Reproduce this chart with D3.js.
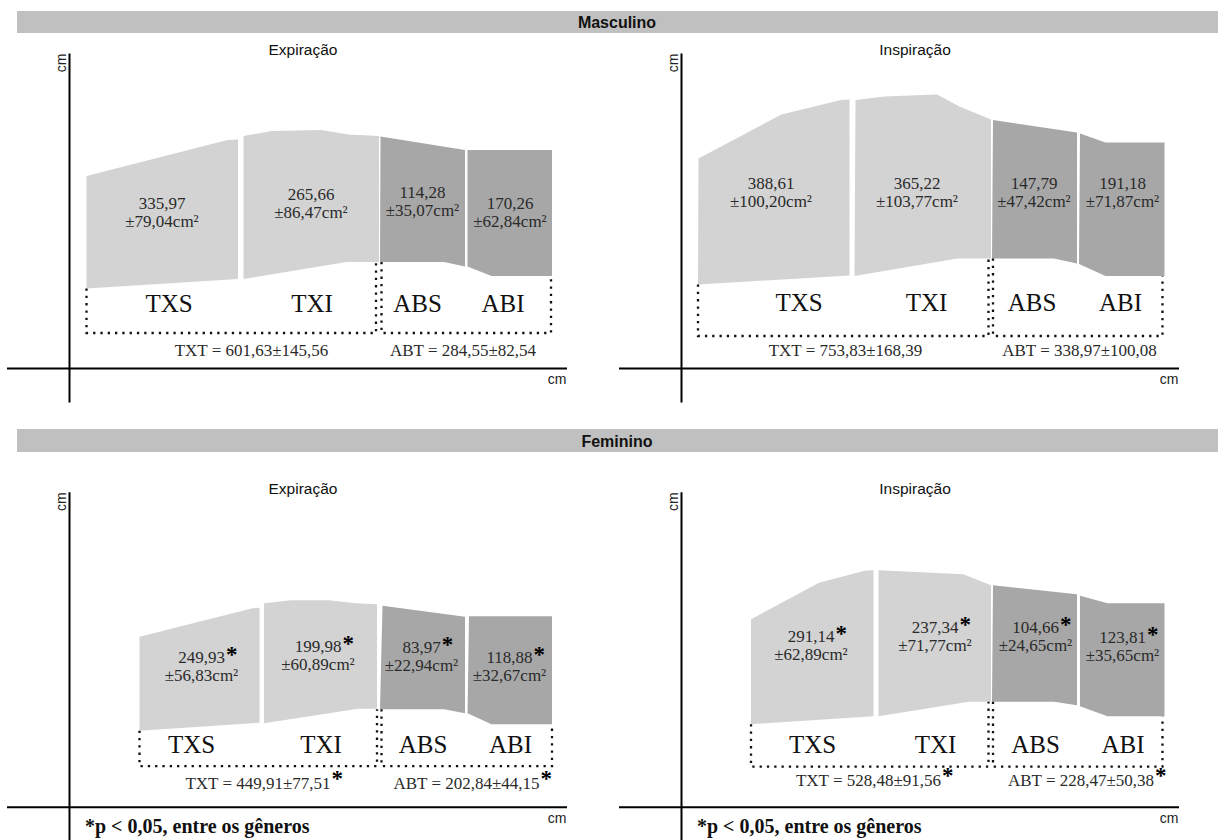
<!DOCTYPE html>
<html>
<head>
<meta charset="utf-8">
<script src="https://cdn.jsdelivr.net/npm/d3@7"></script>
<style>
  body { margin: 0; background: #fff; }
  svg { display: block; }
</style>
</head>
<body>
<svg id="chart" width="1218" height="840"></svg>
<script>
// Trunk regions, measured areas (cm²) and their contour outlines (cm)
const regions = ["TXS", "TXI", "ABS", "ABI"];
const totalNames = ["TXT", "ABT"];
const groups = ["Masculino", "Feminino"];
const phases = ["Expiração", "Inspiração"];

// Masculino – Expiração
const mascExpMean = [335.97, 265.66, 114.28, 170.26];
const mascExpSD = [79.04, 86.47, 35.07, 62.84];
const mascExpTotalMean = [601.63, 284.55];
const mascExpTotalSD = [145.56, 82.54];
const mascExpOutline = [
  [[3.5, 38.4], [31.7, 45.6], [33.8, 45.7], [33.8, 17.8], [3.5, 15.9]],
  [[34.9, 46.4], [40.5, 47.4], [50.5, 47.6], [55.8, 46.7], [62.0, 46.4], [62.0, 21.2], [55.5, 21.2], [34.9, 17.8]],
  [[62.3, 46.3], [79.2, 43.6], [79.2, 20.3], [75.0, 21.2], [62.2, 21.2]],
  [[79.7, 43.6], [96.6, 43.6], [96.6, 18.4], [84.5, 18.4], [79.7, 20.3]]
];
// [left, right, left top, right top, bottom]
const mascExpTotalBox = [[3.5, 61.4, 15.9, 21.2, 7.0], [62.5, 96.4, 21.2, 18.4, 7.0]];

// Masculino – Inspiração
const mascInsMean = [388.61, 365.22, 147.79, 191.18];
const mascInsSD = [100.20, 103.77, 47.42, 71.87];
const mascInsTotalMean = [753.83, 338.97];
const mascInsTotalSD = [168.39, 100.08];
const mascInsOutline = [
  [[3.5, 41.9], [20.1, 50.7], [32.0, 53.6], [33.7, 53.7], [33.7, 18.5], [3.4, 16.7]],
  [[34.9, 53.6], [40.7, 54.3], [51.2, 54.7], [55.7, 52.3], [62.0, 49.7], [62.0, 21.9], [55.3, 21.9], [34.7, 18.4]],
  [[62.4, 49.6], [79.2, 47.1], [79.2, 20.9], [74.6, 21.9], [62.2, 21.9]],
  [[79.8, 46.9], [84.9, 45.1], [96.7, 45.1], [96.7, 18.4], [84.9, 18.4], [79.6, 20.8]]
];
const mascInsTotalBox = [[3.4, 61.5, 16.7, 21.9, 6.4], [62.4, 96.3, 21.9, 18.4, 6.4]];

// Feminino – Expiração
const femExpMean = [249.93, 199.98, 83.97, 118.88];
const femExpSD = [56.83, 60.89, 22.94, 32.67];
const femExpTotalMean = [449.91, 202.84];
const femExpTotalSD = [77.51, 44.15];
const femExpOutline = [
  [[14.1, 34.0], [36.7, 39.7], [38.1, 39.8], [38.1, 16.8], [14.1, 15.2]],
  [[39.0, 40.7], [44.4, 41.3], [52.0, 41.3], [57.4, 40.7], [61.6, 40.5], [61.6, 19.6], [57.8, 19.6], [39.0, 16.7]],
  [[62.7, 40.2], [79.2, 38.0], [79.2, 18.7], [75.0, 19.5], [62.2, 19.5]],
  [[80.0, 38.1], [96.6, 38.1], [96.6, 16.5], [84.5, 16.5], [79.7, 18.7]]
];
const femExpTotalBox = [[14.1, 61.6, 15.2, 19.5, 8.1], [62.5, 96.6, 19.5, 16.5, 8.1]];

// Feminino – Inspiração
const femInsMean = [291.14, 237.34, 104.66, 123.81];
const femInsSD = [62.89, 71.77, 24.65, 35.65];
const femInsTotalMean = [528.48, 228.47];
const femInsTotalSD = [91.56, 50.38];
const femInsOutline = [
  [[14.0, 37.5], [27.6, 44.8], [36.7, 47.2], [38.5, 47.3], [38.5, 18.1], [14.0, 16.5]],
  [[39.5, 47.3], [56.5, 46.5], [62.0, 44.3], [62.0, 21.0], [57.6, 21.0], [39.5, 18.1]],
  [[62.4, 44.3], [79.2, 42.5], [79.2, 20.3], [74.6, 21.0], [62.2, 21.0]],
  [[79.8, 42.2], [85.3, 40.7], [96.7, 40.7], [96.7, 18.1], [85.3, 18.1], [79.8, 20.1]]
];
const femInsTotalBox = [[14.0, 61.5, 16.5, 21.0, 8.0], [62.4, 96.3, 21.0, 18.1, 8.0]];

const footnote = "*p < 0,05, entre os gêneros";

// ---- layout (label anchors in cm, panel origins in px) ----
const layout = [
  { group: 0, phase: 0, ox: 69, oy: 368, mean: mascExpMean, sd: mascExpSD, tMean: mascExpTotalMean, tSD: mascExpTotalSD,
    outline: mascExpOutline, box: mascExpTotalBox, sig: false, totSpace: "",
    valuePos: [[18.6, 31.8], [48.4, 33.6], [70.7, 34.1], [88.2, 31.8]],
    namePos: [[20.0, 11.3], [48.6, 11.3], [69.7, 11.3], [86.8, 11.3]],
    totalPos: [[36.5, 2.4], [78.8, 2.4]] },
  { group: 0, phase: 1, ox: 681, oy: 368, mean: mascInsMean, sd: mascInsSD, tMean: mascInsTotalMean, tSD: mascInsTotalSD,
    outline: mascInsOutline, box: mascInsTotalBox, sig: false, totSpace: "",
    valuePos: [[18.0, 35.8], [47.2, 35.8], [70.6, 35.8], [88.3, 35.8]],
    namePos: [[23.6, 11.5], [49.1, 11.5], [70.2, 11.5], [87.9, 11.5]],
    totalPos: [[32.9, 2.4], [79.7, 2.4]] },
  { group: 1, phase: 0, ox: 69, oy: 806.7, mean: femExpMean, sd: femExpSD, tMean: femExpTotalMean, tSD: femExpTotalSD,
    outline: femExpOutline, box: femExpTotalBox, sig: true, totSpace: "",
    valuePos: [[26.5, 28.7], [49.8, 31.0], [70.5, 30.7], [88.1, 28.7]],
    namePos: [[24.5, 10.7], [50.4, 10.7], [70.8, 10.7], [88.3, 10.7]],
    totalPos: [[37.8, 3.6], [79.5, 3.6]] },
  { group: 1, phase: 1, ox: 681, oy: 806.7, mean: femInsMean, sd: femInsSD, tMean: femInsTotalMean, tSD: femInsTotalSD,
    outline: femInsOutline, box: femInsTotalBox, sig: true, totSpace: " ",
    valuePos: [[26.0, 33.0], [50.8, 34.7], [70.9, 34.7], [88.3, 32.7]],
    namePos: [[26.3, 10.7], [50.9, 10.7], [70.9, 10.7], [88.4, 10.7]],
    totalPos: [[37.5, 4.1], [80.0, 4.1]] }
];

const headerBands = [{ y: 11, h: 22 }, { y: 429, h: 23 }];
const PX = 5; // pixels per cm unit
const sans = "'Liberation Sans', Arial, sans-serif";
const serif = "'Liberation Serif', 'Times New Roman', serif";
const fills = ["#d3d3d3", "#d3d3d3", "#a7a7a7", "#a7a7a7"];
const valueSize = 17;

const ptBR = d3.formatLocale({ decimal: ",", thousands: ".", grouping: [3], currency: ["", ""] });
const fmt = ptBR.format(".2f");

const svg = d3.select("#chart");
svg.append("rect").attr("width", 1218).attr("height", 840).attr("fill", "#fff");

// group header bands
headerBands.forEach((b, i) => {
  svg.append("rect").attr("x", 17).attr("y", b.y).attr("width", 1201).attr("height", b.h).attr("fill", "#c0c0c0");
  svg.append("text").attr("x", 617).attr("y", b.y + b.h / 2 + 6)
    .attr("text-anchor", "middle").attr("font-family", sans).attr("font-weight", "bold")
    .attr("font-size", 16).attr("fill", "#111").text(groups[i]);
});

function addStar(sel, size) {
  sel.append("tspan").attr("font-weight", "bold").attr("font-size", size).attr("fill", "#000").text("*");
}

layout.forEach(p => {
  const x = d3.scaleLinear().domain([-12.5, 99.5]).range([p.ox - 12.5 * PX, p.ox + 99.5 * PX]);
  const y = d3.scaleLinear().domain([-6.8, 63]).range([p.oy + 6.8 * PX, p.oy - 63 * PX]);
  const g = svg.append("g");

  // axes: bare lines, no ticks
  const xAxis = g.append("g").attr("transform", `translate(0,${y(0)})`)
    .call(d3.axisBottom(x).tickValues([]).tickSizeOuter(0));
  const yAxis = g.append("g").attr("transform", `translate(${x(0)},0)`)
    .call(d3.axisLeft(y).tickValues([]).tickSizeOuter(0));
  [xAxis, yAxis].forEach(a => a.select(".domain").attr("stroke", "#000").attr("stroke-width", 2));

  g.append("text").attr("x", x(99.5)).attr("y", y(0) + 16).attr("text-anchor", "end")
    .attr("font-family", sans).attr("font-size", 14).attr("fill", "#222").text("cm");
  g.append("text").attr("transform", `translate(${x(0) - 3},${y(61)}) rotate(-90)`)
    .attr("text-anchor", "middle").attr("font-family", sans).attr("font-size", 14).attr("fill", "#222").text("cm");

  // phase title
  g.append("text").attr("x", x(46.8)).attr("y", y(62.6)).attr("text-anchor", "middle")
    .attr("font-family", sans).attr("font-size", 15.5).attr("fill", "#111").text(phases[p.phase]);

  // region contours
  const line = d3.line().x(d => x(d[0])).y(d => y(d[1])).curve(d3.curveLinearClosed);
  g.selectAll("path.region").data(p.outline).join("path").attr("class", "region")
    .attr("d", line).attr("fill", (d, i) => fills[i]);

  // dotted total boxes
  const open = d3.line().x(d => x(d[0])).y(d => y(d[1]));
  g.selectAll("path.total").data(p.box).join("path").attr("class", "total")
    .attr("d", b => open([[b[0], b[2]], [b[0], b[4]], [b[1], b[4]], [b[1], b[3]]]))
    .attr("fill", "none").attr("stroke", "#111").attr("stroke-width", 2.3).attr("stroke-dasharray", "2.3,5");

  // region names
  regions.forEach((r, i) => {
    g.append("text").attr("x", x(p.namePos[i][0])).attr("y", y(p.namePos[i][1]))
      .attr("text-anchor", "middle").attr("font-family", serif).attr("font-size", 25).attr("fill", "#111").text(r);
  });

  // area values
  regions.forEach((r, i) => {
    const cx = x(p.valuePos[i][0]), cy = y(p.valuePos[i][1]);
    const t1 = g.append("text").attr("x", cx).attr("y", cy).attr("text-anchor", "middle")
      .attr("font-family", serif).attr("font-size", valueSize).attr("fill", "#2a2a2a").text(fmt(p.mean[i]));
    if (p.sig) {
      const w = t1.node().getComputedTextLength();
      const s = g.append("text").attr("x", cx + w / 2 + 1).attr("y", cy - 1).attr("font-family", serif);
      addStar(s, 23);
    }
    g.append("text").attr("x", cx).attr("y", cy + 18).attr("text-anchor", "middle")
      .attr("font-family", serif).attr("font-size", valueSize).attr("fill", "#2a2a2a")
      .text("±" + fmt(p.sd[i]) + "cm²");
  });

  // totals
  totalNames.forEach((n, i) => {
    const cx = x(p.totalPos[i][0]), cy = y(p.totalPos[i][1]);
    const t = g.append("text").attr("x", cx).attr("y", cy).attr("text-anchor", "middle")
      .attr("font-family", serif).attr("font-size", valueSize).attr("fill", "#2a2a2a")
      .text(`${n} = ${fmt(p.tMean[i])}±${fmt(p.tSD[i])}${p.totSpace}`);
    if (p.sig) {
      const w = t.node().getComputedTextLength();
      const s = g.append("text").attr("x", cx + w / 2 + 1).attr("y", cy - 3).attr("font-family", serif);
      addStar(s, 23);
    }
  });

  if (p.sig) {
    g.append("text").attr("x", x(0) + 16).attr("y", 833).attr("font-family", serif)
      .attr("font-weight", "bold").attr("font-size", 20).attr("fill", "#111").text(footnote);
  }
});
</script>
</body>
</html>
